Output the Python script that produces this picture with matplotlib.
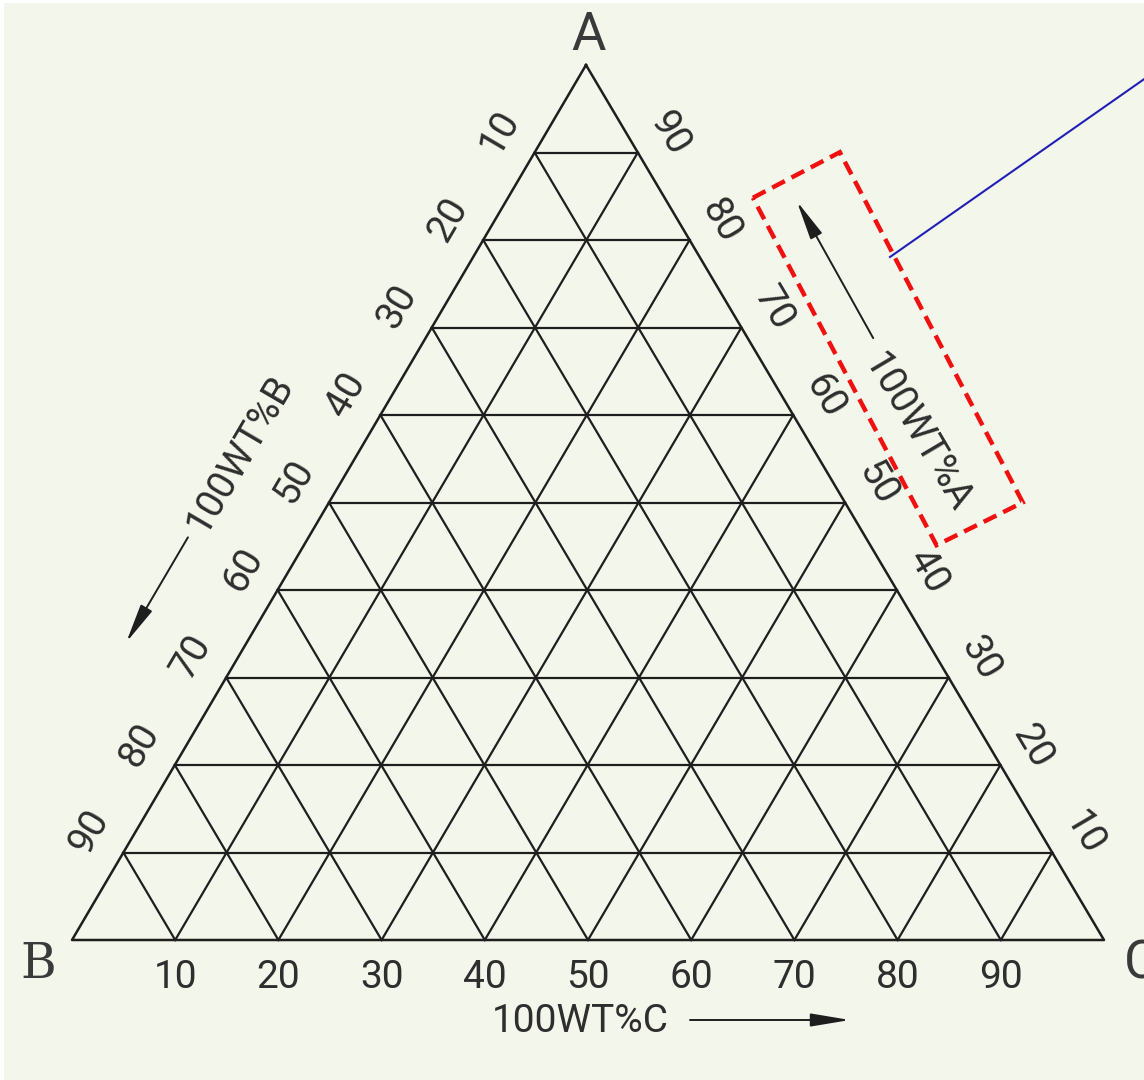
import numpy as np
import matplotlib
matplotlib.use('Agg')
import matplotlib.pyplot as plt
from matplotlib.patches import Polygon, Rectangle

# ternary grid values (percent)
ticks = [10, 20, 30, 40, 50, 60, 70, 80, 90]
c_labels = ['10', '20', '30', '40', '50', '60', '70', '80', '90']
b_labels = ['10', '20', '30', '40', '50', '60', '70', '80', '90']
a_labels = ['90', '80', '70', '60', '50', '40', '30', '20', '10']
vertex_names = ['A', 'B', 'C']
axis_titles = ['100WT%A', '100WT%B', '100WT%C']

# triangle corners in picture pixels (scan is a bit squashed)
A = np.array([586.0, 65.0])
B = np.array([72.0, 940.0])
C = np.array([1104.0, 940.0])
CEN = (A + B + C) / 3


def tern(a, b, c):
    s = a + b + c
    return (a * A + b * B + c * C) / s


def outward(p0, p1):
    d = (p1 - p0) / np.hypot(*(p1 - p0))
    n = np.array([d[1], -d[0]])
    if np.dot(n, p0 - CEN) < 0:
        n = -n
    return n


def edge_pt(p0, p1, t, off):
    # point along edge p0->p1 at fraction t, pushed off px outward
    return p0 + t * (p1 - p0) + off * outward(p0, p1)


def edge_angle(p0, p1):
    d = p1 - p0
    return np.degrees(np.arctan2(-d[1], d[0]))


fig = plt.figure(figsize=(11.44, 10.8), dpi=100, facecolor='white')
ax = fig.add_axes([0, 0, 1, 1])
ax.set_xlim(0, 1144)
ax.set_ylim(1080, 0)
ax.axis('off')
ax.add_patch(Rectangle((4, 3), 1144, 1080, facecolor='#f3f6ea', edgecolor='none', zorder=0))

line_col = '#1e1e1e'
txt_col = '#2e2e2e'
fams = ['Roboto', 'DejaVu Sans']
tkw = dict(fontsize=28, family=fams, color=txt_col, ha='center', va='center')

# grid lines
for k in ticks:
    f = k / 100.0
    for p, q in [(tern(f, 1 - f, 0), tern(f, 0, 1 - f)),
                 (tern(1 - f, f, 0), tern(0, f, 1 - f)),
                 (tern(1 - f, 0, f), tern(0, 1 - f, f))]:
        ax.plot([p[0], q[0]], [p[1], q[1]], color=line_col, lw=1.6, zorder=2)

tri = np.array([A, B, C, A])
ax.plot(tri[:, 0], tri[:, 1], color=line_col, lw=1.8, zorder=3)

# tick labels
rot_left = edge_angle(B, A)
rot_right = edge_angle(A, C)
n_left = outward(B, A)
n_right = outward(C, A)
for i, k in enumerate(ticks):
    f = k / 100.0
    p = tern(0, 1 - f, f)
    ax.text(p[0], p[1] + 37, c_labels[i], **tkw)
    p = tern(1 - f, f, 0) + 40 * n_left
    ax.text(p[0], p[1], b_labels[i], rotation=rot_left, rotation_mode='anchor', **tkw)
    p = tern(1 - f, 0, f) + 37 * n_right
    ax.text(p[0], p[1], a_labels[i], rotation=rot_right, rotation_mode='anchor', **tkw)

# vertex letters
vkw = dict(ha='center', va='center', fontsize=38, family=fams, color='#3a3a3a')
ax.text(A[0] + 2, A[1] - 29, vertex_names[0], **vkw)
ax.text(B[0] - 34, B[1] + 24, vertex_names[1],
        **dict(vkw, family=['DejaVu Serif'], fontsize=35))
ax.text(C[0] + 37, C[1] + 24, vertex_names[2], **vkw)

arrow_kw = dict(arrowstyle='-|>,head_length=1.2,head_width=0.2', color=line_col, lw=1.4,
                mutation_scale=20, shrinkA=0, shrinkB=0)

# C axis title + arrow
ax.text(580, 1022, axis_titles[2], **tkw)
ax.annotate('', xy=(850, 1020), xytext=(690, 1020), arrowprops=arrow_kw)

# B axis title + arrow (along left edge)
p = edge_pt(B, A, 0.497, 101)
ax.text(p[0], p[1], axis_titles[1], rotation=rot_left, rotation_mode='anchor', **tkw)
s = edge_pt(B, A, 0.40, 104)
e = edge_pt(B, A, 0.28, 104)
ax.annotate('', xy=e, xytext=s, arrowprops=arrow_kw)

# A axis title + arrow (along right edge)
p = edge_pt(C, A, 0.523, 98)
ax.text(p[0], p[1], axis_titles[0], rotation=rot_right, rotation_mode='anchor', **tkw)
s = edge_pt(C, A, 0.625, 108)
e = edge_pt(C, A, 0.779, 112)
ax.annotate('', xy=e, xytext=s, arrowprops=arrow_kw)

# red dashed highlight box and blue callout line
box = np.array([edge_pt(C, A, 0.804, 76), edge_pt(C, A, 0.799, 174),
                edge_pt(C, A, 0.411, 153), edge_pt(C, A, 0.418, 57)])
ax.add_patch(Polygon(box, closed=True, fill=False, edgecolor='#f01010', lw=3.2,
                     linestyle=(0, (3.2, 1.7)), zorder=5))
ax.plot([890, 1150], [257, 75], color='#2020b8', lw=1.5, zorder=5)

fig.savefig('out.png', dpi=100, facecolor='white')
